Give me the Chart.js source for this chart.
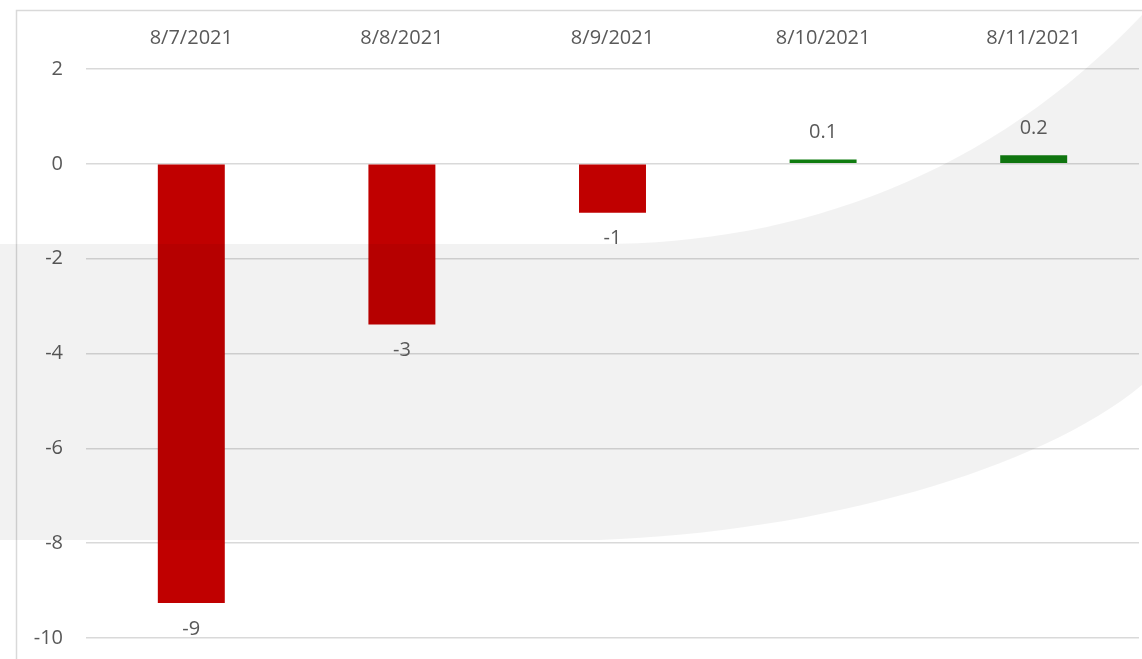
<!DOCTYPE html>
<html lang="en">

<head>
    <meta charset="UTF-8">
    <title>Daily change</title>
    <style>
        body {
            margin: 0;
            background: #ffffff;
        }

        #chartBox {
            position: absolute;
            left: 0;
            top: 0;
            width: 1142px;
            height: 659px;
        }
    </style>
</head>

<body>

    <script src="https://cdn.jsdelivr.net/npm/chart.js"></script>

    <div id="chartBox">
        <canvas id="changeChart" width="1142" height="659"></canvas>
    </div>

    <script>
        // data
        const dates = ['8/7/2021', '8/8/2021', '8/9/2021', '8/10/2021', '8/11/2021'];
        const changes = [-9.26, -3.39, -1.03, 0.09, 0.18];
        const changeLabels = ['-9', '-3', '-1', '0.1', '0.2'];
        const yTicks = [-10, -8, -6, -4, -2, 0, 2];

        const textColor = '#595959';
        const fontFamily = '"Open Sans", "Liberation Sans", sans-serif';

        // frame lines + light grey swoosh in the background
        const framePlugin = {
            id: 'frame',
            beforeDraw(chart) {
                const ctx = chart.ctx;
                ctx.save();
                ctx.strokeStyle = '#d9d9d9';
                ctx.lineWidth = 1.5;
                ctx.beginPath();
                ctx.moveTo(16.5, chart.height);
                ctx.lineTo(16.5, 10.5);
                ctx.lineTo(chart.width, 10.5);
                ctx.stroke();
                ctx.restore();
            },
            afterDatasetsDraw(chart) {
                const ctx = chart.ctx;
                const w = chart.width;
                ctx.save();
                ctx.fillStyle = 'rgba(0, 0, 0, 0.052)';
                ctx.beginPath();
                ctx.moveTo(0, 244);
                ctx.lineTo(600, 244);
                ctx.bezierCurveTo(800, 244, 990, 175, w, 15);
                ctx.lineTo(w, 385);
                ctx.bezierCurveTo(1040, 470, 820, 532, 600, 540);
                ctx.lineTo(0, 540);
                ctx.closePath();
                ctx.fill();
                ctx.restore();
            }
        };

        // value labels under / over each bar
        const valueLabelPlugin = {
            id: 'valueLabels',
            afterDraw(chart) {
                const ctx = chart.ctx;
                const meta = chart.getDatasetMeta(0);
                ctx.save();
                ctx.fillStyle = textColor;
                ctx.font = '20px ' + fontFamily;
                ctx.textAlign = 'center';
                ctx.textBaseline = 'middle';
                meta.data.forEach((bar, i) => {
                    const y = changes[i] < 0 ? bar.y + 26 : bar.y - 27;
                    ctx.fillText(changeLabels[i], bar.x, y);
                });
                ctx.restore();
            }
        };

        let ctx = document.getElementById('changeChart').getContext('2d');
        let changeChart = new Chart(ctx, {
            type: 'bar',
            data: {
                labels: dates,
                datasets: [{
                    data: changes,
                    backgroundColor: changes.map(v => v < 0 ? '#c00000' : '#107c10'),
                    borderWidth: 0,
                    barPercentage: 0.318,
                    categoryPercentage: 1
                }]
            },
            options: {
                responsive: false,
                animation: false,
                layout: {
                    padding: { left: 0, top: 0, right: 3, bottom: 21 }
                },
                plugins: {
                    legend: { display: false },
                    tooltip: { enabled: false }
                },
                scales: {
                    x: {
                        position: 'top',
                        grid: { display: false, drawTicks: false },
                        border: { display: false },
                        ticks: {
                            color: textColor,
                            font: { family: fontFamily, size: 20 },
                            padding: 19,
                            maxRotation: 0
                        },
                        afterFit: (scale) => { scale.height = 69; }
                    },
                    y: {
                        min: -10,
                        max: 2,
                        afterBuildTicks: (scale) => {
                            scale.ticks = yTicks.map(v => ({ value: v }));
                        },
                        grid: { color: '#d9d9d9', lineWidth: 1.5, drawTicks: false },
                        border: { display: false },
                        ticks: {
                            color: textColor,
                            font: { family: fontFamily, size: 20 },
                            padding: 23
                        },
                        afterFit: (scale) => {
                            scale.width = 86;
                            scale.paddingTop = 0;
                            scale.paddingBottom = 0;
                        }
                    }
                }
            },
            plugins: [framePlugin, valueLabelPlugin]
        });
    </script>

</body>

</html>
